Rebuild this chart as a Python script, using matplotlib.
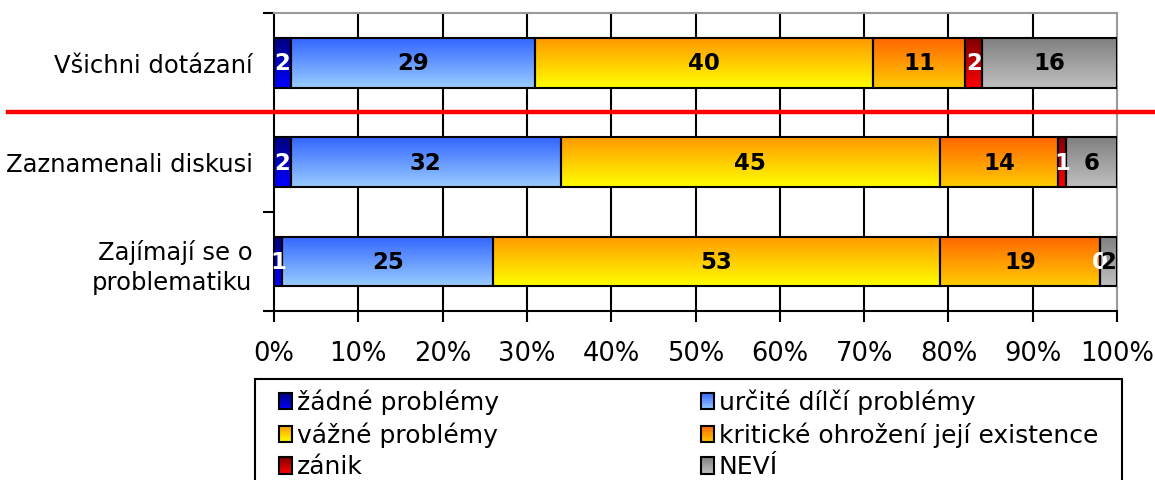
import numpy as np
import matplotlib.pyplot as plt
from matplotlib.lines import Line2D
from matplotlib.patches import Patch, Rectangle
from matplotlib.legend_handler import HandlerBase
from matplotlib.colors import to_rgb

# data
categories = ["Všichni dotázaní", "Zaznamenali diskusi", "Zajímají se o\nproblematiku"]
series = ["žádné problémy", "určité dílčí problémy", "vážné problémy",
          "kritické ohrožení její existence", "zánik", "NEVÍ"]
zadne = [2, 2, 1]
urcite = [29, 32, 25]
vazne = [40, 45, 53]
kriticke = [11, 14, 19]
zanik = [2, 1, 0]
nevi = [16, 6, 2]
values = [zadne, urcite, vazne, kriticke, zanik, nevi]
xticks = np.arange(0, 101, 10)

# gradient colours (top, bottom) and label colours
grads = [("#000080", "#0000ff"), ("#3366ff", "#99ccff"), ("#ff9900", "#ffff00"),
         ("#ff6600", "#ffcc00"), ("#800000", "#ff0000"), ("#808080", "#c0c0c0")]
txtcol = ["white", "black", "black", "black", "white", "black"]


class GradHandler(HandlerBase):
    # legend key drawn as a small vertical gradient box
    def create_artists(self, legend, orig, xd, yd, width, height, fontsize, trans):
        top_c = np.array(to_rgb(orig.top))
        bot_c = np.array(to_rgb(orig.bot))
        n = 10
        arts = []
        for k in range(n):
            t = (k + 0.5) / n
            c = top_c * t + bot_c * (1 - t)
            r = Rectangle((xd, yd + height * k / n), width, height / n + 0.3,
                          facecolor=c, edgecolor="none", transform=trans)
            arts.append(r)
        arts.append(Rectangle((xd, yd), width, height, facecolor="none",
                              edgecolor="black", linewidth=1.5, transform=trans))
        return arts


fig = plt.figure(figsize=(11.55, 4.81), dpi=100)
ax = fig.add_axes([274 / 1155, 1 - 312 / 481, (1117 - 274) / 1155, (312 - 14) / 481])

y = np.arange(len(categories))
left = np.zeros(len(categories))
for i, vals in enumerate(values):
    bars = ax.barh(y, vals, left=left, height=0.5, facecolor="none",
                   edgecolor="black", linewidth=1.5, zorder=4)
    top_c, bot_c = np.array(to_rgb(grads[i][0])), np.array(to_rgb(grads[i][1]))
    t = np.linspace(0, 1, 64)[:, None, None]
    img = top_c * (1 - t) + bot_c * t
    for b in bars:
        x0, y0 = b.get_x(), b.get_y()
        w, h = b.get_width(), b.get_height()
        if w <= 0:
            continue
        ax.imshow(img, extent=(x0, x0 + w, y0 + h, y0), origin="upper",
                  aspect="auto", zorder=3, interpolation="bilinear")
    for j, v in enumerate(vals):
        ax.text(left[j] + v / 2, y[j], str(v), ha="center", va="center",
                fontsize=16.5, fontweight="bold", color=txtcol[i], zorder=5)
    left = left + np.array(vals)

ax.set_xlim(0, 100)
ax.set_ylim(2.5, -0.5)
ax.set_xticks(xticks)
ax.set_xticklabels([f"{v}%" for v in xticks], fontsize=18.5)
ax.tick_params(axis="x", length=8, width=1.5, pad=13)
ax.set_yticks(y)
ax.set_yticklabels(categories, fontsize=17.5, linespacing=1.3)
ax.tick_params(axis="y", length=0, pad=15.5)
ax.set_yticks([-0.5, 0.5, 1.5, 2.5], minor=True)
ax.tick_params(axis="y", which="minor", length=8, width=1.5)

for xv in xticks[1:-1]:
    ax.axvline(xv, color="black", linewidth=1.5, zorder=1)
ax.spines["left"].set_linewidth(1.5)
ax.spines["bottom"].set_linewidth(1.5)
ax.spines["top"].set_color("#999999")
ax.spines["right"].set_color("#999999")
ax.spines["top"].set_linewidth(1.5)
ax.spines["right"].set_linewidth(1.5)

# red separator line across the figure
fig.add_artist(Line2D([8 / 1155, 1], [1 - 113 / 481, 1 - 113 / 481],
                      color="red", linewidth=3.2, zorder=10))

# legend (column-wise order for 2 columns), frame drawn separately
handles = []
for i in range(6):
    p = Patch()
    p.top, p.bot = grads[i]
    handles.append(p)
order = [0, 2, 4, 1, 3, 5]
leg = fig.legend([handles[k] for k in order], [series[k] for k in order],
                 loc="upper left", ncol=2, bbox_to_anchor=(270 / 1155, 1 - 380 / 481),
                 fontsize=18, frameon=False, handler_map={Patch: GradHandler()},
                 handlelength=0.5, handleheight=0.65, handletextpad=0.2,
                 labelspacing=0.3, borderpad=0.37, borderaxespad=0,
                 columnspacing=8.1)
fig.add_artist(Rectangle((255 / 1155, -0.05), 867 / 1155, 1 - 380 / 481 + 0.05,
                         transform=fig.transFigure, facecolor="none",
                         edgecolor="black", linewidth=1.5))

fig.savefig("out.png", dpi=100)
